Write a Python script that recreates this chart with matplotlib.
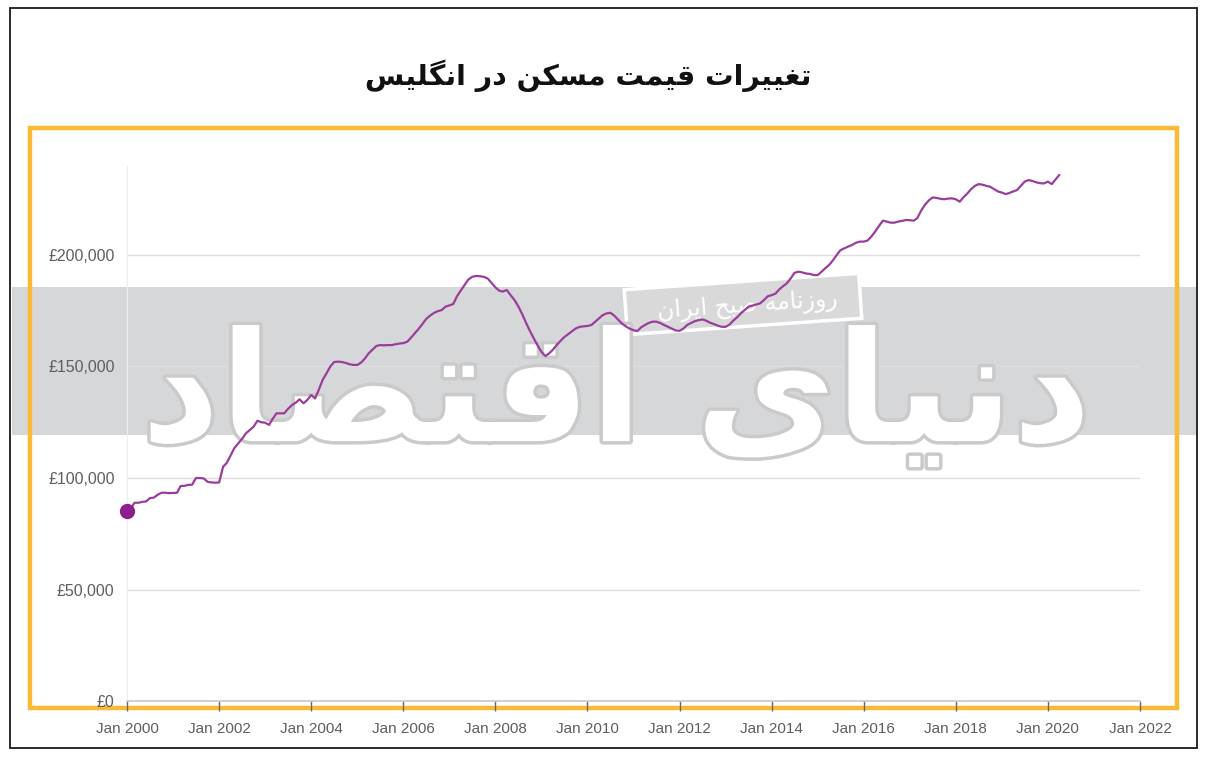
import matplotlib
matplotlib.use("Agg")
import matplotlib.pyplot as plt
import matplotlib.patheffects as pe
from matplotlib.patches import Rectangle
from matplotlib.transforms import IdentityTransform
import pandas as pd

# ---------------- data (average UK house price, £ thousands, monthly) ----------------
start_month = "2000-01-01"
prices_k = [
    # 2000
    85.3, 86.5, 88.9, 88.9, 89.3, 89.5, 91.0, 91.2, 92.5, 93.4, 93.4, 93.2,
    # 2001
    93.3, 93.4, 96.4, 96.5, 96.9, 97.0, 100.0, 100.0, 99.8, 98.3, 98.0, 97.9,
    # 2002
    98.0, 105.0, 106.7, 110.0, 113.4, 115.5, 117.5, 120.0, 121.5, 123.0, 125.7, 125.0,
    # 2003
    124.8, 123.8, 126.5, 129.0, 129.0, 129.0, 131.0, 132.7, 133.8, 135.3, 133.5, 135.0,
    # 2004
    137.2, 135.7, 139.5, 144.0, 146.9, 150.0, 152.0, 152.2, 152.0, 151.6, 151.0, 150.7,
    # 2005
    150.7, 151.8, 153.5, 155.9, 157.5, 159.2, 159.6, 159.5, 159.6, 159.6, 160.0, 160.3,
    # 2006
    160.5, 161.1, 162.8, 164.8, 166.8, 169.0, 171.3, 172.8, 174.0, 174.8, 175.3, 176.8,
    # 2007
    177.4, 178.0, 181.3, 184.0, 186.5, 189.0, 190.2, 190.6, 190.5, 190.2, 189.5, 187.5,
    # 2008
    185.5, 184.0, 183.6, 184.3, 182.0, 179.8, 177.0, 173.5, 169.5, 166.0, 162.6, 159.5,
    # 2009
    156.5, 154.7, 155.8, 157.5, 159.6, 161.5, 163.2, 164.5, 165.8, 167.1, 167.8, 168.0,
    # 2010
    168.2, 168.6, 170.0, 171.5, 173.0, 173.8, 174.1, 172.8, 171.0, 169.3, 168.0, 167.0,
    # 2011
    166.3, 165.9, 167.5, 168.6, 169.5, 170.1, 170.1, 169.5, 168.6, 167.8, 167.0, 166.2,
    # 2012
    166.0, 167.0, 168.6, 169.5, 170.3, 170.8, 171.1, 170.5, 169.6, 169.0, 168.3, 167.8,
    # 2013
    167.8, 168.8, 170.5, 172.0, 173.8, 175.3, 176.8, 177.3, 177.8, 178.3, 179.8, 181.5,
    # 2014
    182.0, 182.7, 184.5, 186.0, 187.3, 189.5, 192.0, 192.5, 192.2, 191.7, 191.5, 191.0,
    # 2015
    191.0, 192.5, 194.0, 195.5, 197.5, 200.0, 202.2, 203.0, 203.8, 204.5, 205.5, 206.0,
    # 2016
    206.0, 206.5, 208.2, 210.5, 213.0, 215.4, 215.0, 214.5, 214.5, 215.0, 215.3, 215.7,
    # 2017
    215.6, 215.4, 216.5, 219.9, 222.5, 224.5, 225.8, 225.6, 225.2, 225.0, 225.3, 225.4,
    # 2018
    225.0, 223.9, 225.8, 227.5, 229.5, 231.0, 231.8, 231.5, 231.0, 230.6, 229.5, 228.5,
    # 2019
    228.0, 227.3, 227.8, 228.5, 229.1, 231.0, 232.9, 233.6, 233.2, 232.6, 232.2, 232.1,
    # 2020
    232.9, 231.8, 233.8, 235.9,
]
y_ticks = [0, 50000, 100000, 150000, 200000]
y_tick_labels = ["£0", "£50,000", "£100,000", "£150,000", "£200,000"]
x_tick_years = list(range(2000, 2023, 2))
x_tick_labels = [f"Jan {y}" for y in x_tick_years]
title_text = "تغییرات قیمت مسکن در انگلیس"
stamp_text = "روزنامه صبح ایران"
logo_text = "دنیای اقتصاد"

# ---------------- minimal Persian shaping (presentation forms + RTL) ----------------
FORMS = {  # isolated, final, initial, medial
    "ا": ("\uFE8D", "\uFE8E", None, None),
    "ب": ("\uFE8F", "\uFE90", "\uFE91", "\uFE92"),
    "ت": ("\uFE95", "\uFE96", "\uFE97", "\uFE98"),
    "ح": ("\uFEA1", "\uFEA2", "\uFEA3", "\uFEA4"),
    "د": ("\uFEA9", "\uFEAA", None, None),
    "ر": ("\uFEAD", "\uFEAE", None, None),
    "ز": ("\uFEAF", "\uFEB0", None, None),
    "س": ("\uFEB1", "\uFEB2", "\uFEB3", "\uFEB4"),
    "ص": ("\uFEB9", "\uFEBA", "\uFEBB", "\uFEBC"),
    "غ": ("\uFECD", "\uFECE", "\uFECF", "\uFED0"),
    "ق": ("\uFED5", "\uFED6", "\uFED7", "\uFED8"),
    "ل": ("\uFEDD", "\uFEDE", "\uFEDF", "\uFEE0"),
    "م": ("\uFEE1", "\uFEE2", "\uFEE3", "\uFEE4"),
    "ن": ("\uFEE5", "\uFEE6", "\uFEE7", "\uFEE8"),
    "ه": ("\uFEE9", "\uFEEA", "\uFEEB", "\uFEEC"),
    "و": ("\uFEED", "\uFEEE", None, None),
    "ی": ("\uFBFC", "\uFBFD", "\uFBFE", "\uFBFF"),
    "ک": ("\uFB8E", "\uFB8F", "\uFB90", "\uFB91"),
    "گ": ("\uFB92", "\uFB93", "\uFB94", "\uFB95"),
}


def dual(c):
    return c in FORMS and FORMS[c][2] is not None


def shape(text):
    out = []
    for i, c in enumerate(text):
        if c not in FORMS:
            out.append(c)
            continue
        prev = text[i - 1] if i > 0 else ""
        nxt = text[i + 1] if i + 1 < len(text) else ""
        jp = dual(prev)
        jn = dual(c) and nxt in FORMS
        iso, fin, ini, med = FORMS[c]
        if jp and jn:
            out.append(med)
        elif jp:
            out.append(fin)
        elif jn:
            out.append(ini)
        else:
            out.append(iso)
    return "".join(reversed(out))


# ---------------- figure ----------------
W, H = 1206, 765
fig = plt.figure(figsize=(W / 100, H / 100), dpi=100)
fig.patch.set_facecolor("white")
PIX = IdentityTransform()  # display pixels (origin bottom-left), dpi 100


def fx(px):
    return px / W


def fy(py):
    return 1 - py / H


# outer thin black frame
fig.add_artist(Rectangle((fx(10), fy(748)), fx(1197) - fx(10), fy(8) - fy(748),
                         transform=fig.transFigure, fill=False, edgecolor="#1a1a1a",
                         linewidth=1.3, zorder=0))

# title
fig.text(fx(588), fy(76), shape(title_text), ha="center", va="center",
         fontsize=20.5, fontweight="bold", family=["DejaVu Sans"], color="#111111")

# gray watermark band
fig.add_artist(Rectangle((fx(12), fy(435)), fx(1196) - fx(12), fy(287) - fy(435),
                         transform=fig.transFigure, facecolor="#d6d7d9", edgecolor="none",
                         zorder=0.5))

# axes
x0, x1 = 127, 1140
ytop = 701 - 240000 * (446 / 200000)
ax = fig.add_axes([fx(x0), fy(701), fx(x1) - fx(x0), fy(ytop) - fy(701)])
ax.set_facecolor("none")
ax.set_zorder(2)

dates = pd.date_range(start_month, periods=len(prices_k), freq="MS")
values = [v * 1000 for v in prices_k]

# big logo watermark (behind the line)
ax.text(0.483, 0.565, shape(logo_text), transform=ax.transAxes, ha="center", va="center",
        fontsize=110, fontweight="bold", family=["DejaVu Sans"], color="white", zorder=0.6,
        path_effects=[pe.withStroke(linewidth=5, foreground="#cacaca")])

ax.plot(dates, values, color="#9a3d9b", linewidth=1.6, zorder=3, solid_capstyle="round",
        clip_on=False)
ax.plot(dates[:1], values[:1], "o", color="#8d1f8e", markersize=10, zorder=4, clip_on=False)

ax.set_xlim(pd.Timestamp("2000-01-01"), pd.Timestamp("2022-01-01"))
ax.set_ylim(0, 240000)

ax.set_yticks(y_ticks)
ax.set_yticklabels(y_tick_labels, family="Liberation Sans", fontsize=11.5, color="#5e5e5e")
xt = [pd.Timestamp(f"{y}-01-01") for y in x_tick_years]
ax.set_xticks(xt)
ax.set_xticklabels(x_tick_labels, family="Liberation Sans", fontsize=11, color="#5e5e5e")

ax.tick_params(axis="y", length=0, pad=9)
ax.tick_params(axis="x", length=7, width=1, color="#6a6a6a", pad=8)

ax.grid(axis="y", color="#dedede", linewidth=1, zorder=1)
ax.set_axisbelow(True)
for s in ("top", "right"):
    ax.spines[s].set_visible(False)
ax.spines["left"].set_color("#eeeeee")
ax.spines["bottom"].set_color("#c8c8c8")
ax.spines["bottom"].set_linewidth(1.2)

# small rotated stamp box (pixel coordinates)
bx, by, bw, bh = 743, 304, 235, 45
fig.add_artist(Rectangle((bx - bw / 2, (H - by) - bh / 2), bw, bh, transform=PIX,
                         facecolor="#d9d9da", edgecolor="white", linewidth=2.5,
                         angle=4, rotation_point="center", zorder=1.5))
fig.text(bx + 4, H - by - 2, shape(stamp_text), transform=PIX, ha="center", va="center",
         rotation=4, fontsize=17, family=["DejaVu Sans"], color="white", zorder=1.6)

# yellow frame around the chart
fig.add_artist(Rectangle((fx(30), fy(708)), fx(1177) - fx(30), fy(128) - fy(708),
                         transform=fig.transFigure, fill=False, edgecolor="#fbb935",
                         linewidth=3.2, zorder=1.8))

fig.savefig("out.png", dpi=100)
